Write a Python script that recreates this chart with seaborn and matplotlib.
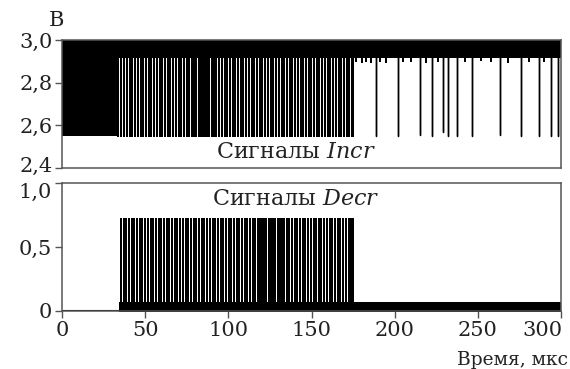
import matplotlib
matplotlib.use("Agg")
import matplotlib.pyplot as plt
from matplotlib.transforms import ScaledTranslation
import seaborn as sns
import pandas as pd

sns.set_theme(style="white")
plt.rcParams["font.family"] = ["DejaVu Serif"]
plt.rcParams["mathtext.fontset"] = "dejavuserif"

# ---- time axis ----
x_ticks = [0, 50, 100, 150, 200, 250, 300]

# ---- Incr: dense oscillation envelope (start, end, low, high) ----
incr_band_t0 = [0.0, 33.5]
incr_band_t1 = [33.5, 300.0]
incr_band_lo = [2.548, 2.915]
incr_band_hi = [3.05, 3.05]

# Incr downward spikes in the active interval (µs) and their minimum (В)
incr_dense_t = [33.7, 35.6, 37.3, 39.0, 40.6, 42.3, 43.9, 45.6, 47.2, 48.8,
                50.5, 52.1, 53.8, 55.4, 57.0, 58.7, 60.3, 62.0, 63.6, 65.2,
                66.9, 68.5, 70.1, 71.8, 73.4, 75.0, 76.6, 78.1, 79.5, 80.8,
                82.1, 83.4, 84.7, 86.0, 87.3, 88.6, 89.9, 91.3, 92.8, 94.4,
                96.0, 97.7, 99.3, 100.9, 102.6, 104.2, 105.8, 107.5, 109.1, 110.7,
                112.4, 114.0, 115.6, 117.3, 118.9, 120.5, 122.2, 123.8, 125.4, 127.1,
                128.7, 130.3, 132.0, 133.6, 135.2, 136.9, 138.5, 140.1, 141.8, 143.4,
                145.0, 146.7, 148.3, 149.9, 151.6, 153.2, 154.8, 156.5, 158.1, 159.7,
                161.4, 163.0, 164.6, 166.3, 167.9, 169.5, 171.2, 172.8, 174.2, 175.2]
incr_dense_min = 2.55

# Incr isolated spikes after the active interval
incr_sparse_t = [188.8, 201.8, 215.3, 222.3, 228.9, 231.9, 237.7, 246.3,
                 263.3, 275.8, 286.6, 294.0, 298.1]
incr_sparse_v = [2.55, 2.55, 2.555, 2.55, 2.57, 2.55, 2.55, 2.55,
                 2.555, 2.55, 2.55, 2.55, 2.55]

# small ripples under the upper band
incr_ripple_t = [177.0, 180.5, 183.0, 185.5, 191.0, 195.0, 205.0,
                 210.0, 219.0, 226.0, 242.0, 252.0, 258.0, 268.0, 281.0, 290.0]
incr_ripple_v = [2.90, 2.895, 2.90, 2.895, 2.90, 2.895, 2.90,
                 2.90, 2.895, 2.90, 2.90, 2.905, 2.90, 2.895, 2.90, 2.90]

# ---- Decr: baseline band and spikes ----
decr_band_t0 = [34.0]
decr_band_t1 = [300.0]
decr_band_lo = [-0.005]
decr_band_hi = [0.068]

decr_spike_t = [35.3, 37.0, 38.6, 40.3, 41.9, 43.4, 45.1, 46.8, 48.3, 50.0,
                51.6, 53.3, 54.8, 56.5, 58.1, 59.7, 61.4, 63.0, 64.5, 66.2,
                67.9, 69.4, 71.0, 72.7, 74.3, 75.9, 77.5, 79.2, 80.8, 82.3,
                84.0, 85.6, 87.3, 88.8, 90.5, 92.1, 93.7, 95.3, 97.0, 98.6,
                100.2, 101.8, 103.4, 105.1, 106.7, 108.2, 109.9, 111.5, 113.1, 114.8,
                116.3, 117.6, 118.9, 120.3, 121.6, 122.9, 124.3, 125.6, 126.9, 128.3,
                129.6, 131.0, 132.4, 133.7, 135.1, 136.6, 138.2, 139.8, 141.4, 143.0,
                144.7, 146.3, 147.9, 149.5, 151.2, 152.8, 154.4, 156.0, 157.7, 159.3,
                160.9, 162.5, 164.2, 165.8, 167.4, 169.0, 170.6, 172.3, 173.9, 175.2]
decr_spike_max = 0.72


def spike_frame(times, base, peaks):
    rows = []
    for t, p in zip(times, peaks):
        rows += [(t, base), (t, p), (t, base)]
    return pd.DataFrame(rows, columns=["t", "v"])


def nudge(label, dx_px, dy_px):
    label.set_transform(label.get_transform()
                        + ScaledTranslation(dx_px / 100, dy_px / 100, fig.dpi_scale_trans))


fig = plt.figure(figsize=(5.7, 3.69), dpi=100)
ax_top = fig.add_axes([0.1088, 0.5447, 0.8754, 0.3469])
ax_bot = fig.add_axes([0.1088, 0.1572, 0.8754, 0.3469])

txt_col = "#222222"
spine_col = "#555555"
for ax in (ax_top, ax_bot):
    for s in ax.spines.values():
        s.set_color(spine_col)
        s.set_linewidth(1.1)
    ax.set_xlim(0, 300)
    ax.tick_params(axis="both", direction="out", length=5, width=1.0,
                   color=spine_col, labelsize=15, pad=2, labelcolor=txt_col)
    ax.tick_params(left=True, bottom=True)

# upper panel
for t0, t1, lo, hi in zip(incr_band_t0, incr_band_t1, incr_band_lo, incr_band_hi):
    ax_top.fill_between([t0, t1], [lo, lo], [hi, hi], color="black", lw=0)
sns.lineplot(data=spike_frame(incr_dense_t, 2.93, [incr_dense_min] * len(incr_dense_t)),
             x="t", y="v", sort=False, estimator=None, color="black", lw=1.45, ax=ax_top)
sns.lineplot(data=spike_frame(incr_sparse_t, 2.93, incr_sparse_v),
             x="t", y="v", sort=False, estimator=None, color="black", lw=1.0, ax=ax_top)
sns.lineplot(data=spike_frame(incr_ripple_t, 2.93, incr_ripple_v),
             x="t", y="v", sort=False, estimator=None, color="black", lw=1.2, ax=ax_top)
ax_top.set_ylim(2.4, 3.0)
ax_top.set_yticks([2.4, 2.6, 2.8, 3.0])
ax_top.set_yticklabels(["2,4", "2,6", "2,8", "3,0"])
ax_top.tick_params(bottom=False, labelbottom=False)
ax_top.set_xlabel("")
ax_top.set_ylabel("")
ax_top.text(140.7, 2.475, r"Сигналы $\it{Incr}$", ha="center", va="center",
            fontsize=16, color=txt_col)

# lower panel
ax_bot.plot([0, 34], [0, 0], color="black", lw=1.5)
for t0, t1, lo, hi in zip(decr_band_t0, decr_band_t1, decr_band_lo, decr_band_hi):
    ax_bot.fill_between([t0, t1], [lo, lo], [hi, hi], color="black", lw=0)
sns.lineplot(data=spike_frame(decr_spike_t, 0.0, [decr_spike_max] * len(decr_spike_t)),
             x="t", y="v", sort=False, estimator=None, color="black", lw=1.2, ax=ax_bot)
ax_bot.set_ylim(0, 1.0)
ax_bot.set_yticks([0, 0.5, 1.0])
ax_bot.set_yticklabels(["0", "0,5", "1,0"])
ax_bot.set_xticks(x_ticks)
ax_bot.set_xticklabels([str(v) for v in x_ticks])
ax_bot.set_xlabel("")
ax_bot.set_ylabel("")
ax_bot.text(140.7, 0.875, r"Сигналы $\it{Decr}$", ha="center", va="center",
            fontsize=16, color=txt_col)

# keep the stacked "2,4" and "1,0" labels apart, and the last x label inside
nudge(ax_top.get_yticklabels()[0], 0, 4)
nudge(ax_bot.get_yticklabels()[-1], 0, -7)
ax_bot.get_xticklabels()[-1].set_horizontalalignment("right")
nudge(ax_bot.get_xticklabels()[-1], 2, 0)

fig.text(57 / 570, 1 - 21 / 369, "В", ha="center", va="center", fontsize=15, color=txt_col)
fig.text(568 / 570, 1 - 360 / 369, "Время, мкс", ha="right", va="center",
         fontsize=13.4, color=txt_col)

fig.savefig("out.png", dpi=100)
